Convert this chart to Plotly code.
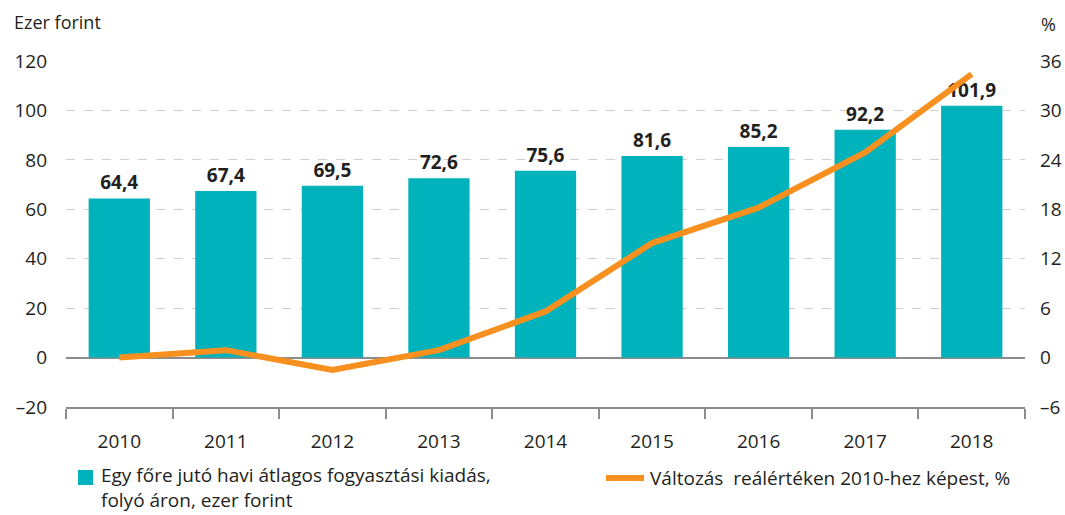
import plotly.graph_objects as go

# Chart data
years = ["2010", "2011", "2012", "2013", "2014", "2015", "2016", "2017", "2018"]
spending = [64.4, 67.4, 69.5, 72.6, 75.6, 81.6, 85.2, 92.2, 101.9]   # ezer forint
real_change = [0.0, 0.9, -1.5, 0.9, 5.6, 13.9, 18.2, 24.9, 34.4]      # %

left_ticks = [-20, 0, 20, 40, 60, 80, 100, 120]
left_labels = ["–20", "0", "20", "40", "60", "80", "100", "120"]
right_ticks = [-6, 0, 6, 12, 18, 24, 30, 36]
right_labels = ["–6", "0", "6", "12", "18", "24", "30", "36"]

bar_name = "Egy főre jutó havi átlagos fogyasztási kiadás,<br>folyó áron, ezer forint"
line_name = "Változás  reálértéken 2010-hez képest, %"

TEAL = "#00B2BC"
ORANGE = "#F7901E"
INK = "#231F20"
FONT = "Open Sans, sans-serif"
FS = 19

W, H = 1065, 515
L, R, T, B = 66, 40, 61, 108

fig = go.Figure()

fig.add_trace(go.Bar(
    x=years, y=spending,
    marker=dict(color=TEAL, line=dict(width=0)),
    width=0.575,
    text=[f"{v:.1f}".replace(".", ",") for v in spending],
    textposition="outside",
    textfont=dict(family=FONT, size=FS, color=INK, weight="bold"),
    cliponaxis=False,
    showlegend=False,
    yaxis="y",
))

fig.add_trace(go.Scatter(
    x=years, y=real_change,
    mode="lines",
    line=dict(color=ORANGE, width=6),
    showlegend=False,
    yaxis="y2",
))


# Legend and axis titles, positioned in pixels converted to paper coordinates
def pa_x(x):
    return (x - L) / (W - L - R)


def pa_y(y):
    return (H - B - y) / (H - T - B)


def label(text, x, y, size=FS, yanchor="middle"):
    return dict(text=text, xref="paper", yref="paper", x=pa_x(x), y=pa_y(y),
                xanchor="left", yanchor=yanchor, align="left", showarrow=False,
                borderpad=0, font=dict(family=FONT, size=size, color=INK))


shapes = [
    dict(type="rect", xref="paper", yref="paper",
         x0=pa_x(78), x1=pa_x(93), y0=pa_y(470), y1=pa_y(485),
         fillcolor=TEAL, line=dict(width=0)),
    dict(type="line", xref="paper", yref="paper",
         x0=pa_x(606), x1=pa_x(644), y0=pa_y(478), y1=pa_y(478),
         line=dict(color=ORANGE, width=6)),
]

annotations = [
    label("Ezer forint", 13, 22, FS - 1),
    label("%", 1040, 24, FS - 1),
    label(bar_name, 100, 514, yanchor="bottom"),
    label(line_name, 649, 478),
]

fig.update_layout(
    width=W, height=H,
    margin=dict(l=L, r=R, t=T, b=B, autoexpand=False),
    paper_bgcolor="white", plot_bgcolor="white",
    font=dict(family=FONT, size=FS, color=INK),
    bargap=0.425,
    shapes=shapes,
    annotations=annotations,
    xaxis=dict(
        type="category",
        showline=True, linecolor="#8C8C8C", linewidth=2,
        ticks="outside", tickson="boundaries", ticklen=10, tickwidth=2,
        tickcolor="#8C8C8C",
        showgrid=False,
        ticklabelstandoff=16,
        tickfont=dict(family=FONT, size=FS, color=INK),
        anchor="y",
    ),
    yaxis=dict(
        range=[-20, 120],
        tickvals=left_ticks, ticktext=left_labels,
        showgrid=True, gridcolor="#CFCFCF", gridwidth=1, griddash="dash",
        zeroline=True, zerolinecolor="#8C8C8C", zerolinewidth=2,
        showline=False, ticks="",
        ticklabelstandoff=18,
        tickfont=dict(family=FONT, size=FS, color=INK),
    ),
    yaxis2=dict(
        range=[-6, 36], overlaying="y", side="right",
        tickvals=right_ticks, ticktext=right_labels,
        showgrid=False, zeroline=False, showline=False, ticks="",
        ticklabelstandoff=14,
        tickfont=dict(family=FONT, size=FS, color=INK),
    ),
)

fig.write_html("out.html")
